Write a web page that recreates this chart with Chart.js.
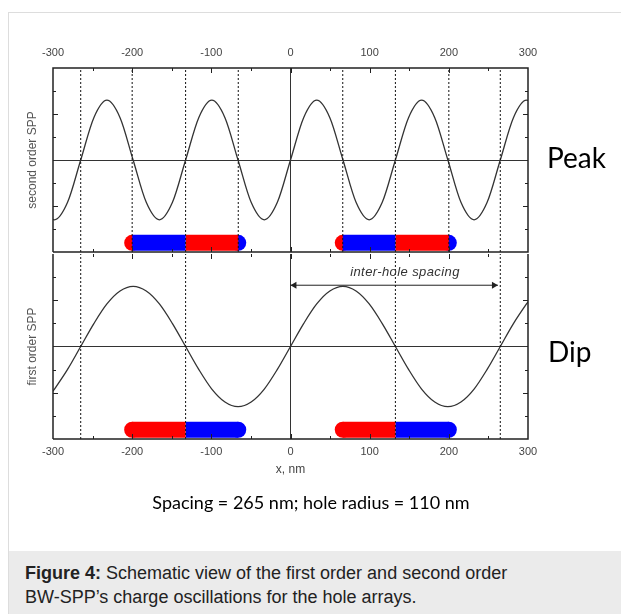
<!DOCTYPE html>
<html>
<head>
<meta charset="utf-8">
<script src="https://cdn.jsdelivr.net/npm/chart.js"></script>
<style>
  body { margin: 0; background: #fff; }
  #page { position: relative; width: 621px; height: 614px; overflow: hidden; font-family: "Liberation Sans", Arial, sans-serif; }
  #card { position: absolute; left: 8px; top: 12px; right: -2px; bottom: -2px; border-top: 1px solid #ddd; border-left: 1px solid #ddd; }
  canvas { position: absolute; left: 0; }
  #topChart { top: 0; }
  #bottomChart { top: 246px; }
  .side { position: absolute; font-family: Lato, sans-serif; font-size: 28px; line-height: 1.2; color: #000; }
  #spacingNote { position: absolute; left: 0; width: 622px; top: 492px; text-align: center; font-family: Lato, sans-serif; font-size: 18px; line-height: 1.2; color: #000; }
  #arrowLabel { position: absolute; left: 320px; width: 170px; top: 264px; text-align: center; font-style: italic; font-size: 13px; color: #333; letter-spacing: 0.4px; }
  #caption { position: absolute; left: 9px; top: 551px; width: 612px; height: 63px; background: #ebebeb; padding: 10px 0 0 16px; box-sizing: border-box; font-size: 18px; line-height: 24px; color: #222; }
</style>
</head>
<body>
<div id="page">
  <div id="card"></div>
  <canvas id="topChart" width="621" height="260"></canvas>
  <canvas id="bottomChart" width="621" height="233"></canvas>
  <div class="side" style="left:547px; top:141px;">Peak</div>
  <div class="side" style="left:548px; top:335px;">Dip</div>
  <div id="arrowLabel">inter-hole spacing</div>
  <div id="spacingNote">Spacing = 265 nm; hole radius = 110 nm</div>
  <div id="caption"><b>Figure 4:</b> Schematic view of the first order and second order<br>BW-SPP’s charge oscillations for the hole arrays.</div>
</div>
<script>
// sample positions along x (nm)
const xs = [-300, -298.1, -281.6, -265, -248.4, -231.9, -215.3, -198.8, -182.2, -165.6, -149.1,
  -132.5, -115.9, -99.4, -82.8, -66.3, -49.7, -33.1, -16.6, 0, 16.6, 33.1, 49.7, 66.3, 82.8,
  99.4, 115.9, 132.5, 149.1, 165.6, 182.2, 198.8, 215.3, 231.9, 248.4, 265, 281.6, 298.1, 300];

// second order SPP (top panel)
const secondOrder = [-2.59, -2.6, -1.84, 0, 1.84, 2.6, 1.84, 0, -1.84, -2.6, -1.84,
  0, 1.84, 2.6, 1.84, 0, -1.84, -2.6, -1.84, 0, 1.84, 2.6, 1.84, 0, -1.84,
  -2.6, -1.84, 0, 1.84, 2.6, 1.84, 0, -1.84, -2.6, -1.84, 0, 1.84, 2.6, 2.59];

// first order SPP (bottom panel)
const firstOrder = [-1.93, -1.84, -0.99, 0, 0.99, 1.84, 2.4, 2.6, 2.4, 1.84, 0.99,
  0, -0.99, -1.84, -2.4, -2.6, -2.4, -1.84, -0.99, 0, 0.99, 1.84, 2.4, 2.6, 2.4,
  1.84, 0.99, 0, -0.99, -1.84, -2.4, -2.6, -2.4, -1.84, -0.99, 0, 0.99, 1.84, 1.93];

// dotted guide lines
const topGuides = [-265, -200, -132.5, -66, 66, 132.5, 200, 265];
const bottomGuides = [-265, -132.5, 132.5, 265];

// hole charge strips: [from, to]
const chargeLevel = -3.6;
const topBlue = [[-200, -132.5], [66, 132.5]];
const topRed = [[-132.5, -66], [132.5, 200]];
const topRedCaps = [-200, 66];
const topBlueCaps = [-66, 200];
const bottomRed = [[-200, -132.5], [66, 132.5]];
const bottomBlue = [[-132.5, -66], [132.5, 200]];
const bottomRedCaps = [-200, 66];
const bottomBlueCaps = [-66, 200];

// inter-hole spacing arrow
const arrowLevel = 2.65;
const arrowSpan = [0, 262];
const arrowHeads = [5, 257];

// inward tick marks
const xMarks = [-250, -200, -150, -100, -50, 0, 50, 100, 150, 200, 250];
const yMarks = [-3, -2, -1, 1, 2, 3];

Chart.defaults.font.family = '"Liberation Sans", Arial, sans-serif';

const red = "#ff0000";
const blue = "#0000ff";

function curve(values) {
  return {
    data: xs.map((x, i) => ({ x: x, y: values[i] })),
    borderColor: "#333",
    borderWidth: 1.3,
    pointRadius: 0,
    cubicInterpolationMode: "monotone",
    order: 3,
  };
}

function guides(list) {
  return {
    data: list.flatMap((x) => [{ x: x, y: -4 }, { x: x, y: 4 }, { x: x, y: null }]),
    borderColor: "#111",
    borderWidth: 1,
    borderDash: [2, 2],
    pointRadius: 0,
    order: 0,
  };
}

function strips(list, color) {
  return {
    data: list.flatMap(([a, b]) => [{ x: a, y: chargeLevel }, { x: b, y: chargeLevel }, { x: b, y: null }]),
    borderColor: color,
    borderWidth: 16,
    borderCapStyle: "butt",
    pointRadius: 0,
    order: 1,
  };
}

function caps(list, color) {
  return {
    data: list.map((x) => ({ x: x, y: chargeLevel })),
    showLine: false,
    pointRadius: 8,
    pointHoverRadius: 8,
    pointBackgroundColor: color,
    pointBorderWidth: 0,
    order: 2,
  };
}

// frame with inward ticks on every side
const frameTicks = {
  id: "frameTicks",
  afterDatasetsDraw(chart, args, opts) {
    const { ctx, chartArea: a, scales } = chart;
    ctx.save();
    ctx.strokeStyle = "#222";
    ctx.lineWidth = 1;
    ctx.beginPath();
    xMarks.forEach((v) => {
      const px = Math.round(scales.x.getPixelForValue(v)) + 0.5;
      const len = v % 100 === 0 ? 5 : 3;
      ctx.moveTo(px, a.top); ctx.lineTo(px, a.top + len);
      ctx.moveTo(px, a.bottom); ctx.lineTo(px, a.bottom - len);
    });
    yMarks.forEach((v) => {
      const py = Math.round(scales.y.getPixelForValue(v)) + 0.5;
      const len = v % 2 === 0 ? 5 : 3;
      ctx.moveTo(a.left, py); ctx.lineTo(a.left + len, py);
      ctx.moveTo(a.right, py); ctx.lineTo(a.right - len, py);
    });
    ctx.stroke();
    ctx.lineWidth = 1.5;
    ctx.beginPath();
    ctx.moveTo(a.left, a.bottom); ctx.lineTo(a.left, a.top);
    if (!opts.skipTop) ctx.lineTo(a.right, a.top); else ctx.moveTo(a.right, a.top);
    ctx.lineTo(a.right, a.bottom);
    ctx.lineTo(a.left, a.bottom);
    ctx.stroke();
    ctx.restore();
  },
};

function xScale(position, height, title) {
  return {
    type: "linear",
    position: position,
    min: -300,
    max: 300,
    ticks: { stepSize: 100, color: "#444", font: { size: 11 }, padding: position === "top" ? 8 : 6 },
    grid: { drawTicks: false, color: (c) => (c.tick.value === 0 ? "#333" : "transparent") },
    border: { display: false },
    title: title,
    afterFit: (s) => { s.height = height; },
  };
}

function yScale(text) {
  return {
    min: -4,
    max: 4,
    ticks: { display: false, stepSize: 1 },
    grid: { drawTicks: false, color: (c) => (c.tick.value === 0 ? "#333" : "transparent") },
    border: { display: false },
    title: { display: true, text: text, color: "#555", font: { size: 12 }, padding: { top: 25 } },
    afterFit: (s) => { s.width = 53; },
  };
}

function baseOptions(skipTop) {
  return {
    responsive: false,
    animation: false,
    plugins: { legend: { display: false }, tooltip: { enabled: false }, frameTicks: { skipTop: skipTop } },
  };
}

new Chart(document.getElementById("topChart").getContext("2d"), {
  type: "line",
  data: {
    datasets: [
      curve(secondOrder),
      guides(topGuides),
      strips(topBlue, blue),
      strips(topRed, red),
      caps(topRedCaps, red),
      caps(topBlueCaps, blue),
    ],
  },
  options: Object.assign(baseOptions(false), {
    layout: { padding: { left: 0, right: 93, top: 0, bottom: 7 } },
    scales: {
      x: xScale("top", 68, { display: false }),
      y: yScale("second order SPP"),
    },
  }),
  plugins: [frameTicks],
});

new Chart(document.getElementById("bottomChart").getContext("2d"), {
  type: "line",
  data: {
    datasets: [
      curve(firstOrder),
      guides(bottomGuides),
      strips(bottomRed, red),
      strips(bottomBlue, blue),
      caps(bottomRedCaps, red),
      caps(bottomBlueCaps, blue),
      {
        data: arrowSpan.map((x) => ({ x: x, y: arrowLevel })),
        borderColor: "#222",
        borderWidth: 1,
        pointRadius: 0,
        order: 0,
      },
      {
        data: arrowHeads.map((x) => ({ x: x, y: arrowLevel })),
        showLine: false,
        pointStyle: "triangle",
        pointRadius: 4,
        pointRotation: [-90, 90],
        pointBackgroundColor: "#222",
        pointBorderWidth: 0,
        order: 0,
      },
    ],
  },
  options: Object.assign(baseOptions(true), {
    layout: { padding: { left: 0, right: 93, top: 7, bottom: 0 } },
    scales: {
      x: xScale("bottom", 40, { display: true, text: "x, nm", color: "#444", font: { size: 12 }, padding: { top: 0, bottom: 2 } }),
      y: yScale("first order SPP"),
    },
  }),
  plugins: [frameTicks],
});
</script>
</body>
</html>
